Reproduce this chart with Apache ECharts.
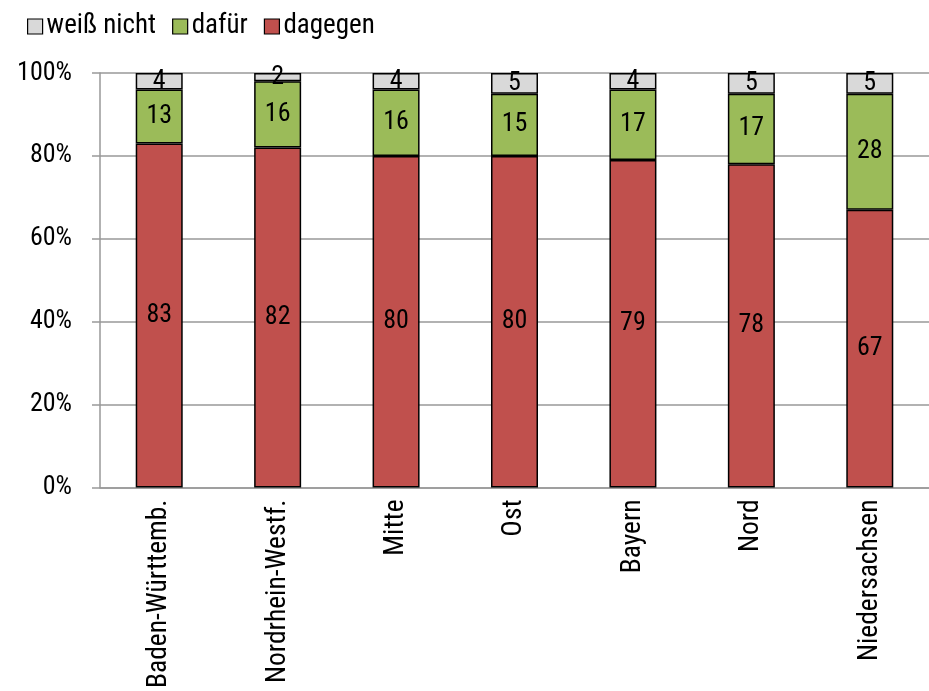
<!DOCTYPE html>
<html><head><meta charset="utf-8">
<script src="https://cdn.jsdelivr.net/npm/echarts@6/dist/echarts.min.js"></script>
<style>html,body{margin:0;padding:0;background:#fff}#c{width:929px;height:691px}</style>
</head><body><div id="c"></div>
<script>
const categories = ['Baden-Württemb.','Nordrhein-Westf.','Mitte','Ost','Bayern','Nord','Niedersachsen'];
const dagegen = [83,82,80,80,79,78,67];
const dafuer = [13,16,16,15,17,17,28];
const weissNicht = [4,2,4,5,4,5,5];
const yTicks = [0,20,40,60,80,100];

const FONT = "'Roboto Condensed','Liberation Sans Narrow','DejaVu Sans Condensed',sans-serif";
const chart = echarts.init(document.getElementById('c'), null, {renderer:'canvas'});
const seg = (name, data, color) => ({
  name, type:'bar', stack:'s', data, barWidth:47,
  itemStyle:{color, borderColor:'#000', borderWidth:1.5},
  label:{show:true, position:'inside', color:'#000', fontSize:26, fontFamily:FONT},
  emphasis:{disabled:true}
});
chart.setOption({
  animation:false,
  textStyle:{fontFamily:FONT},
  legend:{left:22, top:8, itemWidth:15, itemHeight:15, itemGap:16, icon:'rect',
    data:['weiß nicht','dafür','dagegen'],
    textStyle:{fontSize:27, color:'#000', fontFamily:FONT, padding:[0,0,0,-1]},
    itemStyle:{borderColor:'#000', borderWidth:1.2}},
  grid:{left:100, top:73, width:849, height:415},
  xAxis:{type:'category', data:categories,
    axisLine:{show:true, lineStyle:{color:'#999', width:1.5}},
    axisTick:{show:false},
    axisLabel:{rotate:90, fontSize:27.5, color:'#000', fontFamily:FONT, margin:12, interval:0}},
  yAxis:{type:'value', min:0, max:100, interval:20,
    axisLine:{show:true, lineStyle:{color:'#999', width:1.5}},
    axisTick:{show:true, length:8, lineStyle:{color:'#999', width:1.5}},
    splitLine:{lineStyle:{color:'#999', width:1.5}},
    axisLabel:{formatter:v=>yTicks.includes(v)?v+'%':'', fontSize:26, color:'#000', fontFamily:FONT, margin:28}},
  series:[
    seg('dagegen', dagegen, '#c0504d'),
    seg('dafür', dafuer, '#9bbb59'),
    seg('weiß nicht', weissNicht, '#d9d9d9')
  ]
});
</script></body></html>
